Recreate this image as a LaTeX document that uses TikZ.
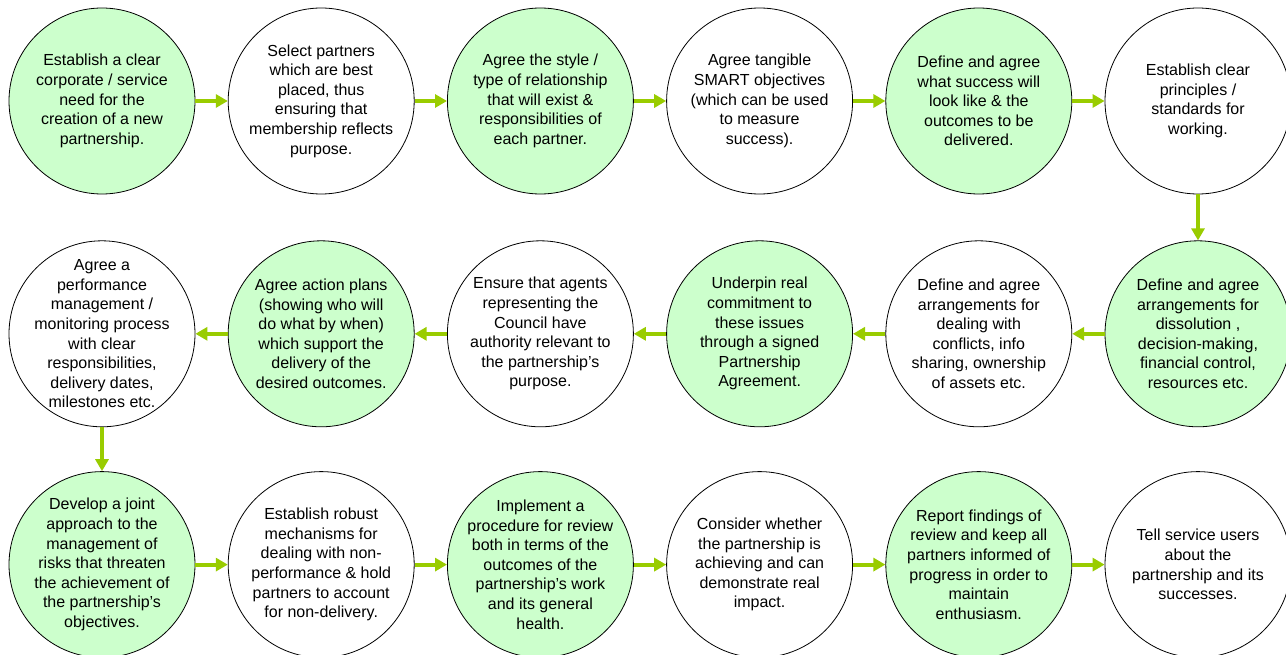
\documentclass[tikz,border=0pt]{standalone}
\usepackage{fontspec}
\setmainfont{Liberation Sans}
\usepackage{xcolor}
\usepackage{tikz}
\usetikzlibrary{arrows.meta,positioning}

\definecolor{leaf}{HTML}{99CC00}
\definecolor{mint}{HTML}{CCFFCC}

\begin{document}
\begin{tikzpicture}[
  x=1pt, y=1pt,
  node distance=46pt and 32.4pt,
  stage/.style={draw, circle, line width=0.8pt, minimum size=186pt,
                inner sep=-14pt, align=center,
                font=\fontsize{16}{19.6}\selectfont},
  keystage/.style={stage, fill=mint},
  arr/.style={-{Triangle[length=12pt, width=13pt]}, line width=4pt, leaf}
]
\useasboundingbox (0,0) rectangle (1286,-655);

% top row, left to right
\node[keystage] (need) at (102,-101) {Establish a clear\\corporate / service\\need for the\\creation of a new\\partnership.};
\node[stage, right=of need] (select) {Select partners\\which are best\\placed, thus\\ensuring that\\membership reflects\\purpose.};
\node[keystage, right=of select] (style) {Agree the style /\\type of relationship\\that will exist \&\\responsibilities of\\each partner.};
\node[stage, right=of style] (smart) {Agree tangible\\SMART objectives\\(which can be used\\to measure\\success).};
\node[keystage, right=of smart] (success) {Define and agree\\what success will\\look like \& the\\outcomes to be\\delivered.};
\node[stage, right=of success] (principles) {Establish clear\\principles /\\standards for\\working.};

% middle row, right to left
\node[keystage, below=of principles] (dissolve) {Define and agree\\arrangements for\\dissolution ,\\decision-making,\\financial control,\\resources etc.};
\node[stage, left=of dissolve] (conflicts) {Define and agree\\arrangements for\\dealing with\\conflicts, info\\sharing, ownership\\of assets etc.};
\node[keystage, left=of conflicts] (commit) {Underpin real\\commitment to\\these issues\\through a signed\\Partnership\\Agreement.};
\node[stage, left=of commit] (agents) {Ensure that agents\\representing the\\Council have\\authority relevant to\\the partnership’s\\purpose.};
\node[keystage, left=of agents] (plans) {Agree action plans\\(showing who will\\do what by when)\\which support the\\delivery of the\\desired outcomes.};
\node[stage, left=of plans] (monitor) {Agree a\\performance\\management /\\monitoring process\\with clear\\responsibilities,\\delivery dates,\\milestones etc.};

% bottom row, left to right
\node[keystage, below=44pt of monitor] (risks) {Develop a joint\\approach to the\\management of\\risks that threaten\\the achievement of\\the partnership’s\\objectives.};
\node[stage, right=of risks] (robust) {Establish robust\\mechanisms for\\dealing with non-\\performance \& hold\\partners to account\\for non-delivery.};
\node[keystage, right=of robust] (review) {Implement a\\procedure for review\\both in terms of the\\outcomes of the\\partnership’s work\\and its general\\health.};
\node[stage, right=of review] (impact) {Consider whether\\the partnership is\\achieving and can\\demonstrate real\\impact.};
\node[keystage, right=of impact] (report) {Report findings of\\review and keep all\\partners informed of\\progress in order to\\maintain\\enthusiasm.};
\node[stage, right=of report] (tell) {Tell service users\\about the\\partnership and its\\successes.};

\draw[arr] (need) -- (select);
\draw[arr] (select) -- (style);
\draw[arr] (style) -- (smart);
\draw[arr] (smart) -- (success);
\draw[arr] (success) -- (principles);
\draw[arr] (principles) -- (dissolve);
\draw[arr] (dissolve) -- (conflicts);
\draw[arr] (conflicts) -- (commit);
\draw[arr] (commit) -- (agents);
\draw[arr] (agents) -- (plans);
\draw[arr] (plans) -- (monitor);
\draw[arr] (monitor) -- (risks);
\draw[arr] (risks) -- (robust);
\draw[arr] (robust) -- (review);
\draw[arr] (review) -- (impact);
\draw[arr] (impact) -- (report);
\draw[arr] (report) -- (tell);
\end{tikzpicture}
\end{document}
